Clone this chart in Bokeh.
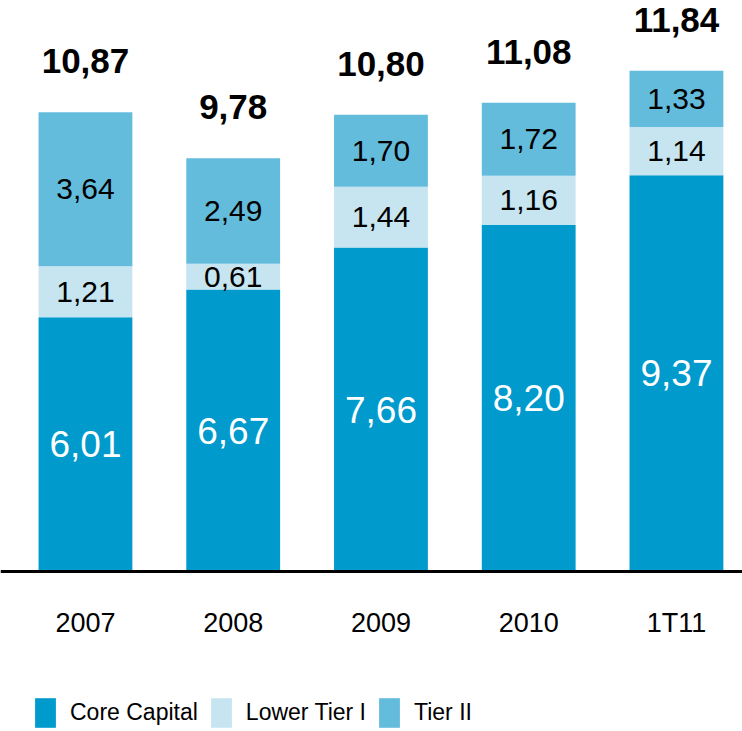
from bokeh.plotting import figure
from bokeh.models import Range1d, FixedTicker, LinearAxis, Legend, LegendItem, ColumnDataSource
from bokeh.core.properties import value
from bokeh.embed import file_html
from bokeh.resources import INLINE

categories = ["2007", "2008", "2009", "2010", "1T11"]
core_capital = [6.01, 6.67, 7.66, 8.20, 9.37]
lower_tier_i = [1.21, 0.61, 1.44, 1.16, 1.14]
tier_ii = [3.64, 2.49, 1.70, 1.72, 1.33]
totals = [10.87, 9.78, 10.80, 11.08, 11.84]

series = ["core", "lower", "tier2"]
names = ["Core Capital", "Lower Tier I", "Tier II"]
colors = ["#009ACD", "#C6E5F0", "#63BCDC"]

FONT = "Liberation Sans"

def fmt(v):
    return f"{v:.2f}".replace(".", ",")

xs = list(range(len(categories)))
src = ColumnDataSource(dict(x=xs, core=core_capital, lower=lower_tier_i, tier2=tier_ii))

p = figure(width=742, height=731, output_backend="svg", toolbar_location=None,
           x_range=Range1d(-0.575, 4.447), y_range=Range1d(-3.78, 13.5),
           x_axis_location=None, y_axis_location=None,
           min_border_left=0, min_border_right=0, min_border_top=0, min_border_bottom=0)
p.outline_line_color = None
p.xgrid.visible = False
p.ygrid.visible = False
p.background_fill_color = "white"
p.border_fill_color = "white"

renderers = p.vbar_stack(series, x="x", width=0.635, source=src, color=colors, line_color=None)

# segment labels
mid_core = [c / 2 for c in core_capital]
mid_lower = [c + l / 2 for c, l in zip(core_capital, lower_tier_i)]
mid_t2 = [c + l + t / 2 for c, l, t in zip(core_capital, lower_tier_i, tier_ii)]
tops = [c + l + t for c, l, t in zip(core_capital, lower_tier_i, tier_ii)]

p.text(x=xs, y=mid_core, text=[fmt(v) for v in core_capital], text_align="center",
       text_baseline="middle", text_color="white", text_font=value(FONT), text_font_size="37px")
p.text(x=xs, y=mid_lower, text=[fmt(v) for v in lower_tier_i], text_align="center",
       text_baseline="middle", text_color="black", text_font=value(FONT), text_font_size="30px")
p.text(x=xs, y=mid_t2, text=[fmt(v) for v in tier_ii], text_align="center",
       text_baseline="middle", text_color="black", text_font=value(FONT), text_font_size="30px")
p.text(x=xs, y=tops, text=[fmt(v) for v in totals], text_align="center",
       text_baseline="middle", y_offset=-51, text_color="black", text_font=value(FONT),
       text_font_size="35px", text_font_style="bold")

ax = LinearAxis(ticker=FixedTicker(ticks=xs), fixed_location=0,
                major_label_overrides={i: c for i, c in enumerate(categories)})
ax.axis_line_color = "black"
ax.axis_line_width = 3
ax.major_tick_line_color = None
ax.minor_tick_line_color = None
ax.major_tick_out = 0
ax.major_tick_in = 0
ax.major_label_standoff = 36
ax.major_label_text_font = FONT
ax.major_label_text_font_size = "27px"
ax.major_label_text_color = "black"
p.add_layout(ax, "below")

legend = Legend(items=[LegendItem(label=n, renderers=[r]) for n, r in zip(names, renderers)],
                orientation="horizontal", location=(32, 0))
legend.margin = 0
legend.padding = 0
legend.border_line_color = None
legend.background_fill_alpha = 0
legend.glyph_width = 26
legend.glyph_height = 37
legend.label_standoff = 12
legend.spacing = 10
legend.label_text_font = FONT
legend.label_text_font_size = "23px"
legend.label_text_color = "black"
p.add_layout(legend, "center")

open("out.html", "w").write(file_html(p, INLINE))
